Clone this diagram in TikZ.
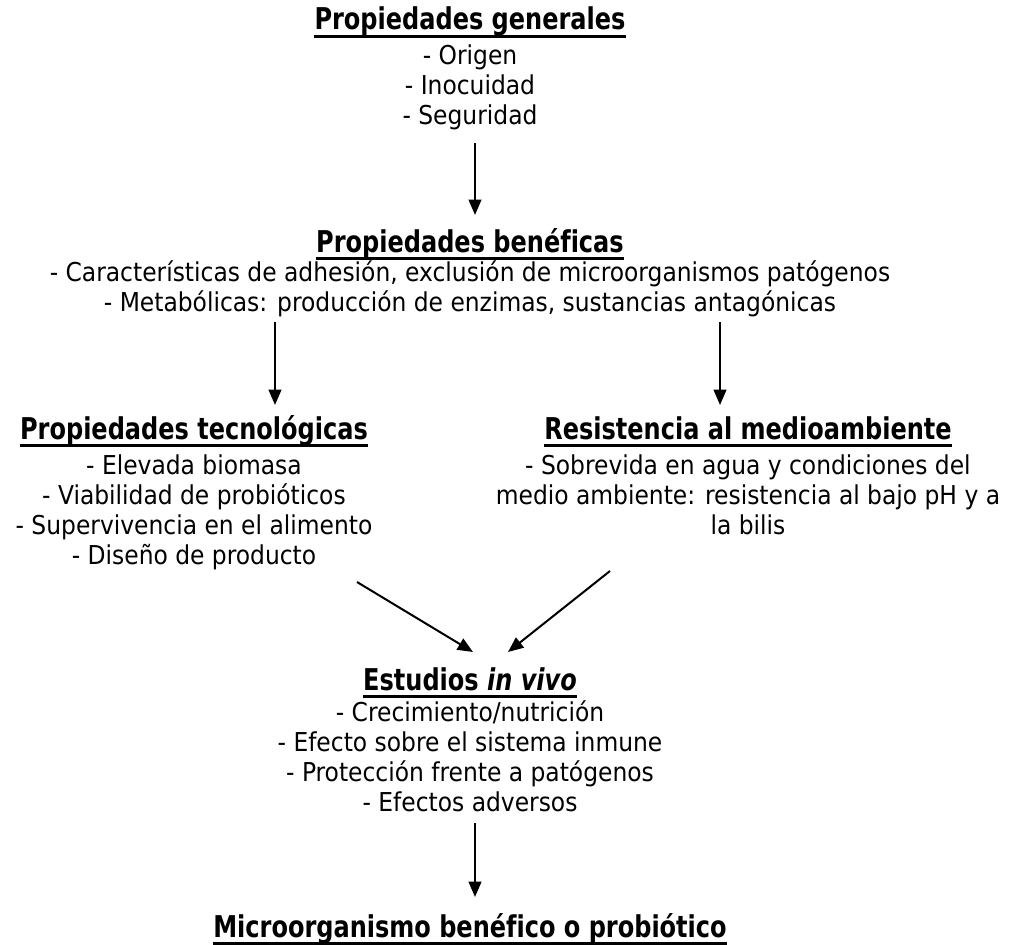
\documentclass[tikz,border=0pt]{standalone}
\usepackage{fontspec}
\setmainfont{DejaVuSansCondensed.ttf}[Ligatures=NoCommon, BoldFont=DejaVuSansCondensed-Bold.ttf, ItalicFont=DejaVuSansCondensed-Oblique.ttf, BoldItalicFont=DejaVuSansCondensed-BoldOblique.ttf]
\newfontfamily\headfont{DejaVuSansCondensed-Bold.ttf}[Ligatures=NoCommon, FakeStretch=0.89, ItalicFont=DejaVuSansCondensed-BoldOblique.ttf]
\usetikzlibrary{arrows.meta}
\tikzset{
  body/.style={font=\fontsize{19.5}{23}\selectfont, inner sep=0pt, anchor=base},
  head/.style={font=\fontsize{22.5}{27}\headfont, inner sep=0pt, anchor=base},
  ul/.style={line width=2.1pt},
  arr/.style={line width=1.5pt, -{Triangle[length=11.5pt,width=9.5pt]}},
}
\newcommand{\ulhead}[1]{\draw[ul] ([yshift=-4.8pt]#1.base west) -- ([yshift=-4.8pt]#1.base east);}
\begin{document}
\begin{tikzpicture}[x=0.75pt,y=-0.75pt]
\useasboundingbox (0,0) rectangle (1010,945);
% block 1
\node[head] (h1) at (470,30) {Propiedades generales};
\ulhead{h1}
\node[body] (g1) at (470,65) {- Origen};
\node[body] (g2) at (470,95) {- Inocuidad};
\node[body] (g3) at (470,125) {- Seguridad};
% block 2
\node[head] (h2) at (470,252) {Propiedades benéficas};
\ulhead{h2}
\node[body] (b1) at (470,281) {- Características de adhesión, exclusión de microorganismos patógenos};
\node[body] (b2) at (470,311) {- Metabólicas: producción de enzimas, sustancias antagónicas};
% block 3 left
\node[head] (h3) at (194,439) {Propiedades tecnológicas};
\ulhead{h3}
\node[body] (t1) at (194,474) {- Elevada biomasa};
\node[body] (t2) at (194,504) {- Viabilidad de probióticos};
\node[body] (t3) at (194,534) {- Supervivencia en el alimento};
\node[body] (t4) at (194,564) {- Diseño de producto};
% block 3 right
\node[head] (h4) at (748,439) {Resistencia al medioambiente};
\ulhead{h4}
\node[body] (r1) at (748,474) {- Sobrevida en agua y condiciones del};
\node[body] (r2) at (748,504) {medio ambiente: resistencia al bajo pH y a};
\node[body] (r3) at (748,534) {la bilis};
% block 4
\node[head] (h5) at (470,690) {Estudios \textit{in vivo}};
\ulhead{h5}
\node[body] (v1) at (470,721) {- Crecimiento/nutrición};
\node[body] (v2) at (470,751) {- Efecto sobre el sistema inmune};
\node[body] (v3) at (470,781) {- Protección frente a patógenos};
\node[body] (v4) at (470,811) {- Efectos adversos};
% block 5
\node[head] (h6) at (470,937) {Microorganismo benéfico o probiótico};
\ulhead{h6}
% arrow end points
\coordinate (a1s) at (475,143);
\coordinate (a1e) at (475,215);
\coordinate (a2s) at (275,322);
\coordinate (a2e) at (275,405);
\coordinate (a3s) at (720,322);
\coordinate (a3e) at (720,405);
\coordinate (a4s) at (357,582);
\coordinate (a4e) at (473,652);
\coordinate (a5s) at (610,571);
\coordinate (a5e) at (508,652);
\coordinate (a6s) at (475,823);
\coordinate (a6e) at (475,897);
\draw[arr] (a1s) -- (a1e);
\draw[arr] (a2s) -- (a2e);
\draw[arr] (a3s) -- (a3e);
\draw[arr] (a4s) -- (a4e);
\draw[arr] (a5s) -- (a5e);
\draw[arr] (a6s) -- (a6e);
\end{tikzpicture}
\end{document}
